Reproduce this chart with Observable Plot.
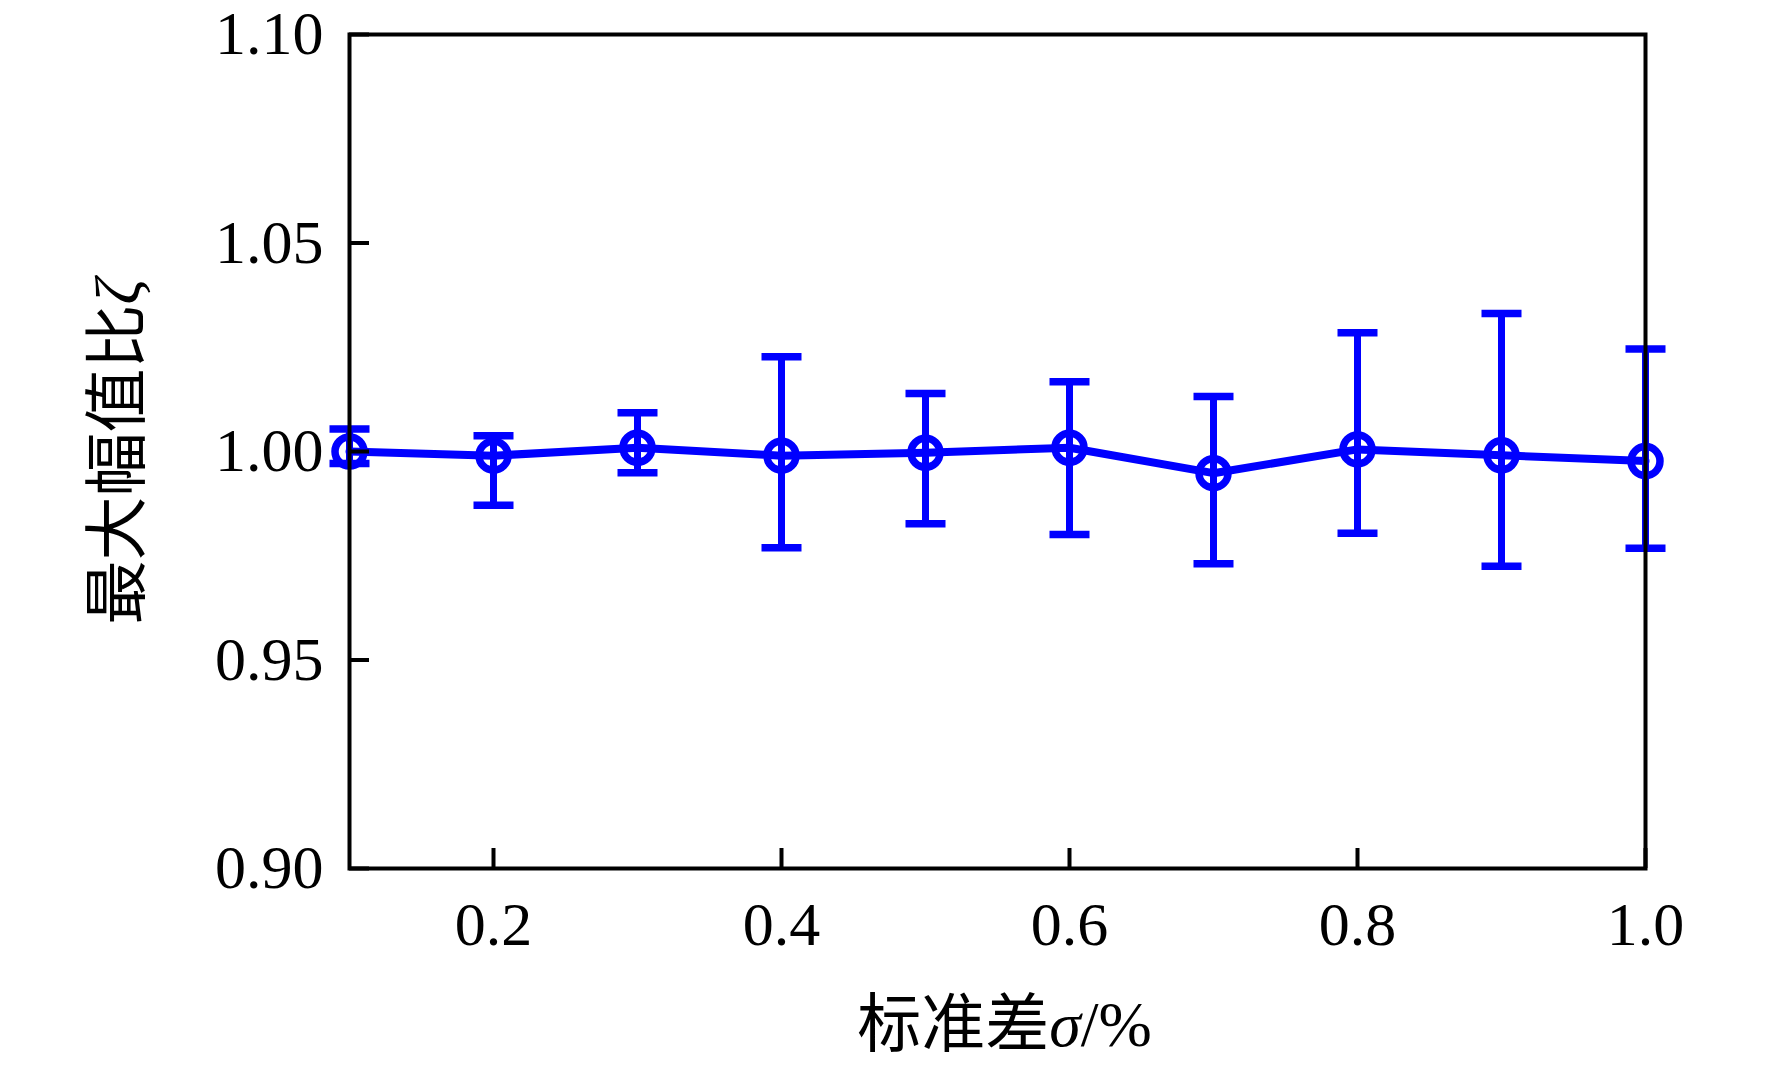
<!DOCTYPE html>
<html>
<head>
<meta charset="utf-8">
<script src="https://cdn.jsdelivr.net/npm/d3@7"></script>
<script src="https://cdn.jsdelivr.net/npm/@observablehq/plot@0.6"></script>
<style>
  html, body { margin: 0; padding: 0; background: #fff; }
  #chart svg { display: block; }
</style>
</head>
<body>
<div id="chart"></div>
<script>
// ---- data ----
const sigma = [0.1, 0.2, 0.3, 0.4, 0.5, 0.6, 0.7, 0.8, 0.9, 1.0];
const meanRatio = [1.0000, 0.9990, 1.0009, 0.9990, 0.9997, 1.0009, 0.9948, 1.0005, 0.9991, 0.9977];
const upperRatio = [1.0054, 1.0038, 1.0093, 1.0227, 1.0139, 1.0167, 1.0132, 1.0285, 1.0331, 1.0246];
const lowerRatio = [0.9971, 0.9871, 0.9949, 0.9769, 0.9827, 0.9801, 0.9731, 0.9804, 0.9725, 0.9768];
const xTicks = [0.2, 0.4, 0.6, 0.8, 1.0];
const yTicks = [0.90, 0.95, 1.00, 1.05, 1.10];
const xLabel = "标准差σ/%";
const yLabel = "最大幅值比ζ";

const data = sigma.map((s, i) => ({x: s, y: meanRatio[i], hi: upperRatio[i], lo: lowerRatio[i]}));

const blue = "#0000ff";
const capSymbol = {
  draw(ctx, size) {
    const w = Math.sqrt(size / Math.PI);
    ctx.moveTo(-w, 0);
    ctx.lineTo(w, 0);
  }
};

const svg = Plot.plot({
  width: 1772,
  height: 1070,
  marginLeft: 349,
  marginRight: 127,
  marginTop: 34,
  marginBottom: 202,
  style: {fontFamily: "'Liberation Serif', 'Noto Sans CJK SC', serif", background: "#fff", color: "#000"},
  x: {domain: [0.1, 1.0]},
  y: {domain: [0.9, 1.1]},
  marks: [
    Plot.ruleX(data, {x: "x", y1: "lo", y2: "hi", stroke: blue, strokeWidth: 7}),
    Plot.dot(data, {x: "x", y: "hi", symbol: capSymbol, r: 20, stroke: blue, strokeWidth: 7.5, fill: "none"}),
    Plot.dot(data, {x: "x", y: "lo", symbol: capSymbol, r: 20, stroke: blue, strokeWidth: 7.5, fill: "none"}),
    Plot.line(data, {x: "x", y: "y", stroke: blue, strokeWidth: 8}),
    Plot.dot(data, {x: "x", y: "y", r: 14.5, stroke: blue, strokeWidth: 7.5, fill: "none"}),
    Plot.frame({stroke: "#000", strokeWidth: 4}),
    Plot.axisY({ticks: yTicks, tickFormat: d3.format(".2f"), tickSize: -20, tickPadding: 46, fontSize: 62, strokeWidth: 4, label: null}),
    Plot.axisX({ticks: xTicks, tickFormat: d3.format(".1f"), tickSize: -20, tickPadding: 52, fontSize: 62, strokeWidth: 4, label: null}),
    Plot.text([yLabel], {text: d => d, frameAnchor: "left", textAnchor: "middle", lineAnchor: "middle", dx: -231, rotate: -90, fontSize: 64, fill: "#000"}),
    Plot.text([xLabel], {text: d => d, frameAnchor: "bottom", textAnchor: "middle", lineAnchor: "middle", dy: 157, dx: 7, fontSize: 64, fill: "#000"})
  ]
});

// italicise Greek symbols in the axis labels
d3.select(svg).selectAll("text").each(function() {
  const t = this.textContent;
  const m = t.match(/[σζ]/);
  if (!m || t.length < 3) return;
  const idx = t.indexOf(m[0]);
  const parts = [t.slice(0, idx), m[0], t.slice(idx + 1)];
  const el = d3.select(this);
  el.text(null);
  el.append("tspan").text(parts[0]);
  el.append("tspan").attr("font-style", "italic").attr("font-family", "'Liberation Serif', serif").text(parts[1]);
  if (parts[2]) el.append("tspan").text(parts[2]);
});

document.getElementById("chart").appendChild(svg);
</script>
</body>
</html>
